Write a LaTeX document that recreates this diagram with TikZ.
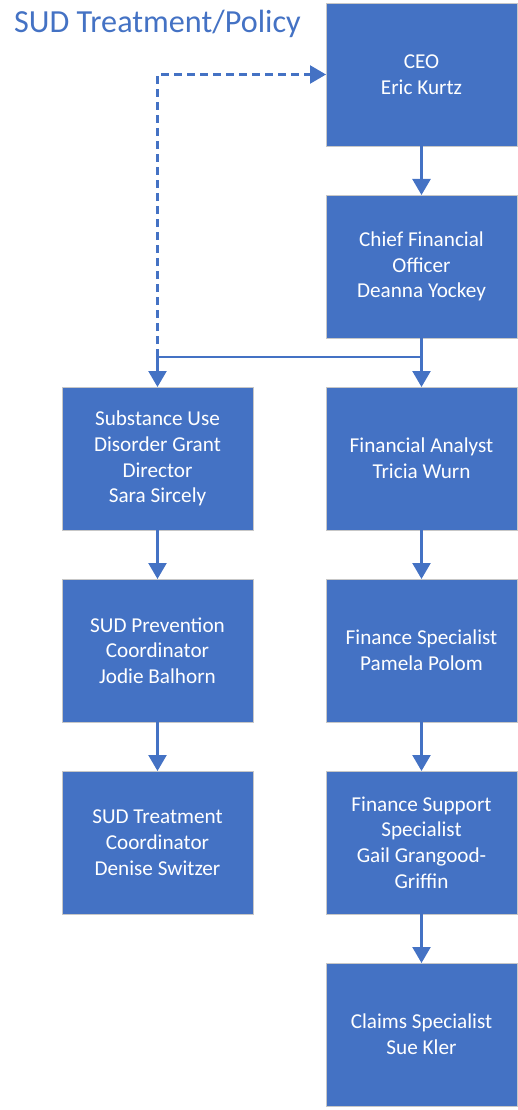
\documentclass[tikz,border=0pt]{standalone}
\usepackage{fontspec}
\setmainfont{Carlito}
\usetikzlibrary{arrows.meta,positioning}
\definecolor{boxblue}{HTML}{4472C4}
\tikzset{link/.style={boxblue, line width=2.4pt, -{Triangle[width=18pt,length=16pt]}},
  wire/.style={boxblue, line width=2.4pt},
  box/.style={draw=black!22, line width=0.8pt, outer sep=0pt, fill=boxblue, text=white, minimum width=191pt,
    minimum height=143pt, align=center, font=\fontsize{21.2}{25.7}\selectfont}}

\begin{document}
\begin{tikzpicture}[x=1pt, y=1pt, node distance=49pt]
  \useasboundingbox (0,0) rectangle (518,-1110);
  \node[anchor=base west, inner sep=0pt, text=boxblue, font=\fontsize{32.2}{38}\selectfont] (title) at (14,-33) {SUD Treatment/Policy};
  % finance side (right)
  \node[box] (ceo) at (421.5,-74.5) {CEO\\Eric Kurtz};
  \node[box, below=of ceo] (cfo) {Chief Financial\\Officer\\Deanna Yockey};
  \node[box, below=of cfo] (fa) {Financial Analyst\\Tricia Wurn};
  \node[box, below=of fa] (fs) {Finance Specialist\\Pamela Polom};
  \node[box, below=of fs] (fss) {Finance Support\\Specialist\\Gail Grangood-\\Griffin};
  \node[box, below=of fss] (cs) {Claims Specialist\\Sue Kler};
  % grant side (left)
  \node[box] (sud) at (157.5,-458.5) {Substance Use\\Disorder Grant\\Director\\Sara Sircely};
  \node[box, below=of sud] (prev) {SUD Prevention\\Coordinator\\Jodie Balhorn};
  \node[box, below=of prev] (treat) {SUD Treatment\\Coordinator\\Denise Switzer};
  % links
  \draw[link] (ceo) -- (cfo);
  \draw[wire] (cfo.south) -- ++(0,-19) coordinate (split) -- (split -| sud.north) coordinate (splitl);
  \draw[link] (split) -- (fa);
  \draw[link] (splitl) -- (sud);
  \draw[link, dashed, dash pattern=on 8pt off 5pt] (splitl) -- (sud.north |- ceo.west) -- (ceo.west);
  \draw[link] (fa) -- (fs);
  \draw[link] (fs) -- (fss);
  \draw[link] (fss) -- (cs);
  \draw[link] (sud) -- (prev);
  \draw[link] (prev) -- (treat);
\end{tikzpicture}
\end{document}
